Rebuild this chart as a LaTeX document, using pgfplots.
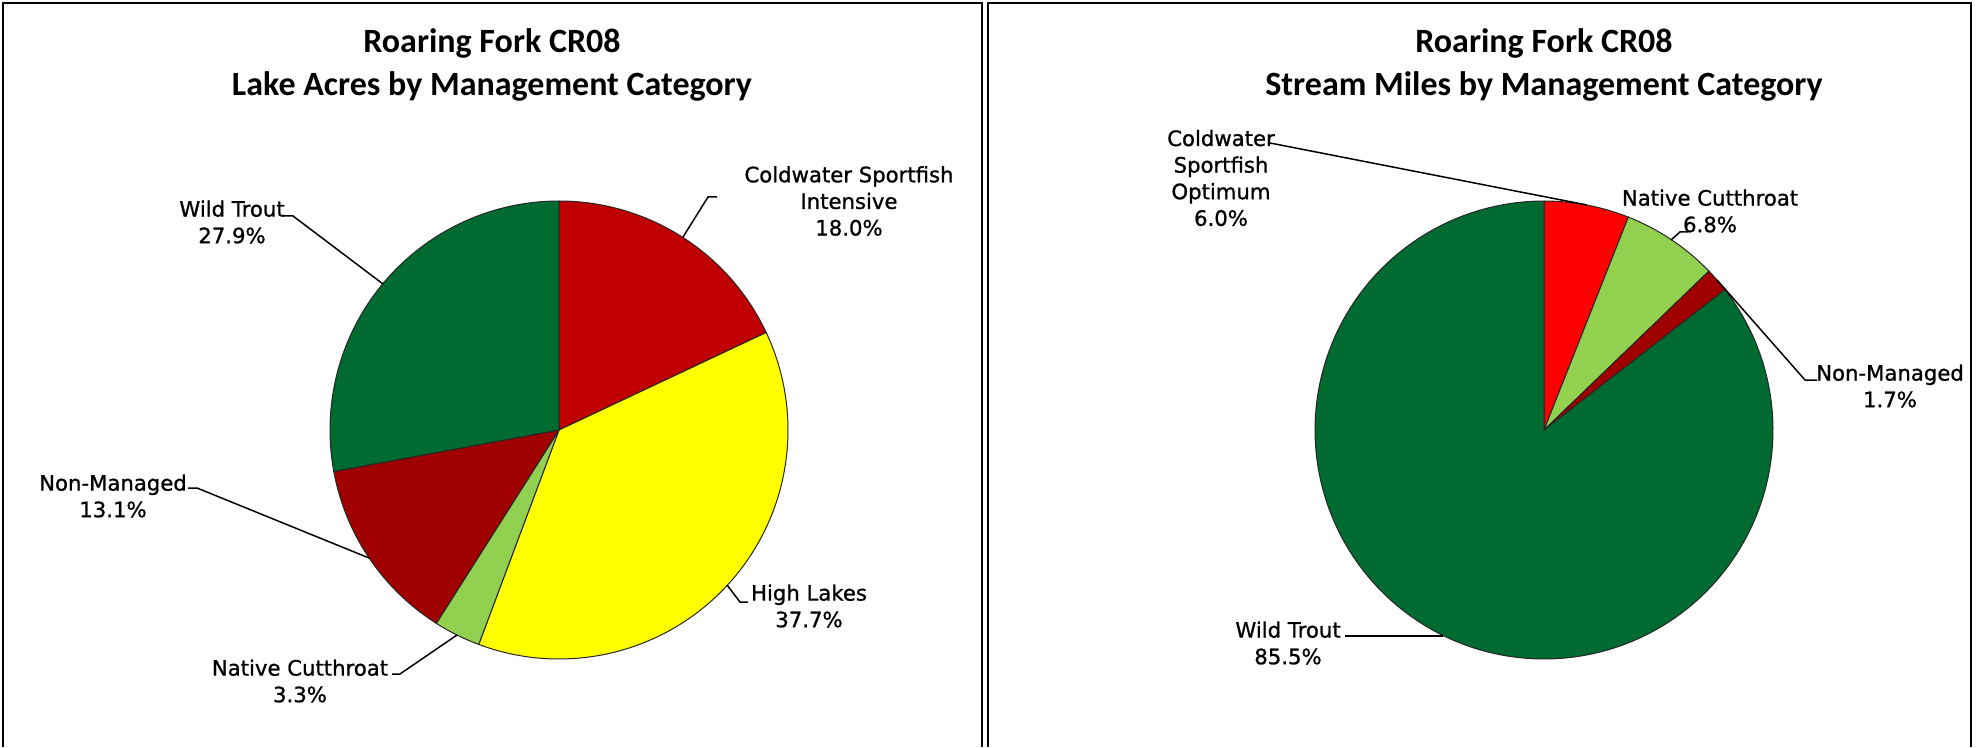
\documentclass[border=0pt]{standalone}
\usepackage{fontspec}
\setmainfont{Carlito}
\newfontfamily\labfamily{DejaVu Sans}[BoldFont={DejaVu Sans}, BoldFeatures={FakeBold=1.0}]
\usepackage{pgfplots}
\pgfplotsset{compat=1.18}

\definecolor{csi}{HTML}{C00000}
\definecolor{cso}{HTML}{FF0000}
\definecolor{hl}{HTML}{FFFF00}
\definecolor{nc}{HTML}{92D050}
\definecolor{nm}{HTML}{A00000}
\definecolor{wt}{HTML}{006B31}

% \pieslice{cx}{cy}{start percent}{percent}{colour}  (clockwise from 12 o'clock)
\newcommand\pieslice[5]{%
  \pgfmathsetmacro\sa{90-3.6*(#3)}%
  \pgfmathsetmacro\sb{90-3.6*((#3)+(#4))}%
  \edef\doslice{\noexpand\addplot[fill=#5, draw=black!85, line width=0.5pt,
     domain=\sb:\sa, samples=150, variable=\noexpand\t]
     ({#1+229*cos(\noexpand\t)},{#2-229*sin(\noexpand\t)}) -- (axis cs:#1,#2) -- cycle;}%
  \doslice
}

\tikzset{
  ttl/.style={font=\fontsize{17}{21.5}\selectfont\bfseries, align=center, inner sep=0pt},
  lab/.style={font=\labfamily\bfseries\fontsize{10.6}{13.3}\selectfont, align=center, inner sep=0pt},
  lead/.style={line width=0.75pt, black},
  frame/.style={line width=1pt, black}
}

\begin{document}
\begin{tikzpicture}
\begin{axis}[
  hide axis, scale only axis, clip=false,
  width=989.5pt, height=373.5pt,
  xmin=0, xmax=1979, ymin=0, ymax=747, y dir=reverse,
  enlargelimits=false]
\path (axis cs:0,0) rectangle (axis cs:1979,747);

% panel frames
\draw[frame] (axis cs:3,747) -- (axis cs:3,3) -- (axis cs:982,3) -- (axis cs:982,747);
\draw[frame] (axis cs:988,747) -- (axis cs:988,3) -- (axis cs:1971,3) -- (axis cs:1971,747);

% ---- Lake acres (left pie) ----
\pieslice{559}{430}{0}{18.0}{csi}    % Coldwater Sportfish Intensive
\pieslice{559}{430}{18.0}{37.7}{hl}  % High Lakes
\pieslice{559}{430}{55.7}{3.3}{nc}   % Native Cutthroat
\pieslice{559}{430}{59.0}{13.1}{nm}  % Non-Managed
\pieslice{559}{430}{72.1}{27.9}{wt}  % Wild Trout

\node[ttl] at (axis cs:492,65) {Roaring Fork CR08\\Lake Acres by Management Category};

\draw[lead] (axis cs:683,237) -- (axis cs:708,197) -- (axis cs:717,197);
\node[lab] at (axis cs:849,201) {Coldwater Sportfish\\Intensive\\18.0\%};
\draw[lead] (axis cs:727,585) -- (axis cs:740,602) -- (axis cs:748,602);
\node[lab] at (axis cs:809,606) {High Lakes\\37.7\%};
\draw[lead] (axis cs:457,635) -- (axis cs:400,674) -- (axis cs:392,674);
\node[lab] at (axis cs:300,681) {Native Cutthroat\\3.3\%};
\draw[lead] (axis cs:369,558) -- (axis cs:197,488) -- (axis cs:188,488);
\node[lab] at (axis cs:113,496) {Non-Managed\\13.1\%};
\draw[lead] (axis cs:383,284) -- (axis cs:293,216) -- (axis cs:283,216);
\node[lab] at (axis cs:232,222) {Wild Trout\\27.9\%};

% ---- Stream miles (right pie) ----
\pieslice{1544}{430}{0}{6.0}{cso}    % Coldwater Sportfish Optimum
\pieslice{1544}{430}{6.0}{6.8}{nc}   % Native Cutthroat
\pieslice{1544}{430}{12.8}{1.7}{nm}  % Non-Managed
\pieslice{1544}{430}{14.5}{85.5}{wt} % Wild Trout

\node[ttl] at (axis cs:1544,65) {Roaring Fork CR08\\Stream Miles by Management Category};

\draw[lead] (axis cs:1587,205) -- (axis cs:1270,143);
\node[lab] at (axis cs:1221,178) {Coldwater\\Sportfish\\Optimum\\6.0\%};
\draw[lead] (axis cs:1671,240) -- (axis cs:1680,232) -- (axis cs:1688,232);
\node[lab] at (axis cs:1710,211) {Native Cutthroat\\6.8\%};
\draw[lead] (axis cs:1717,280) -- (axis cs:1805,380) -- (axis cs:1817,380);
\node[lab] at (axis cs:1890,386) {Non-Managed\\1.7\%};
\draw[lead] (axis cs:1443,636) -- (axis cs:1345,636);
\node[lab] at (axis cs:1288,643) {Wild Trout\\85.5\%};
\end{axis}
\end{tikzpicture}
\end{document}
